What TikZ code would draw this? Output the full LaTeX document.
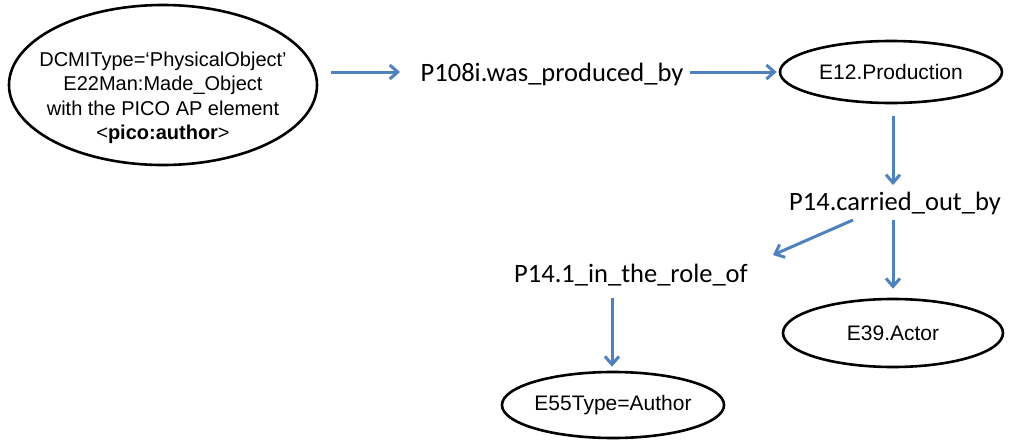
\documentclass[tikz,border=0pt]{standalone}
\usepackage{fontspec}
\setmainfont{Liberation Sans}
\newfontfamily\labfont{Carlito}
\newfontfamily\entfont{Liberation Sans}
\usetikzlibrary{arrows.meta,calc,shapes.geometric}
\definecolor{linkblue}{HTML}{4F81BD}
\tikzset{
  entity/.style={ellipse, draw=black, line width=2.6pt, inner sep=0pt,
    font=\entfont\fontsize{21}{24}\selectfont},
  prop/.style={inner sep=0pt, font=\labfont\fontsize{26.5}{30}\selectfont},
  link/.style={draw=linkblue, line width=3pt,
    -{Straight Barb[length=8pt,width=14pt,line width=3pt]}}
}
\begin{document}
\begin{tikzpicture}[x=1pt,y=-1pt]
\useasboundingbox[fill=white] (0,0) rectangle (1012,442);

% classes
\node[entity, minimum width=308pt, minimum height=160pt] (obj) at (163,85) {};
\node[align=center, inner sep=0pt, font=\entfont\fontsize{20}{24.5}\selectfont]
  (objtext) at ($(obj.center)+(0,13)$)
  {DCMIType=‘PhysicalObject’\\E22Man:Made\_Object\\with the PICO AP element\\<\textbf{pico:author}>};
\node[entity, minimum width=222pt, minimum height=62pt] (prod) at (891,72) {E12.Production};
\node[entity, minimum width=220pt, minimum height=68pt] (actor) at (893,333) {E39.Actor};
\node[entity, minimum width=220pt, minimum height=66pt] (type) at (613,405) {E55Type=Author};

% properties
\node[prop] (p108) at (552,74) {P108i.was\_produced\_by};
\node[prop] (p14) at (895,203) {P14.carried\_out\_by};
\node[prop] (p141) at (631,275) {P14.1\_in\_the\_role\_of};

% links
\draw[link] ($(obj.east)+(13,-13)$) -- ($(p108.center)+(-152,-2)$);
\draw[link] ($(p108.center)+(138,-2)$) -- ($(prod.west)+(-2,0)$);
\draw[link] ($(prod.south)+(2,12)$) -- ($(p14.center)+(-2,-18)$);
\draw[link] ($(p14.center)+(-42,17)$) -- ($(p141.center)+(142,-20)$);
\draw[link] ($(p14.center)+(-2,17)$) -- ($(actor.north)+(0,-9)$);
\draw[link] ($(p141.center)+(-19,23)$) -- ($(type.north)+(-1,-4)$);
\end{tikzpicture}
\end{document}
